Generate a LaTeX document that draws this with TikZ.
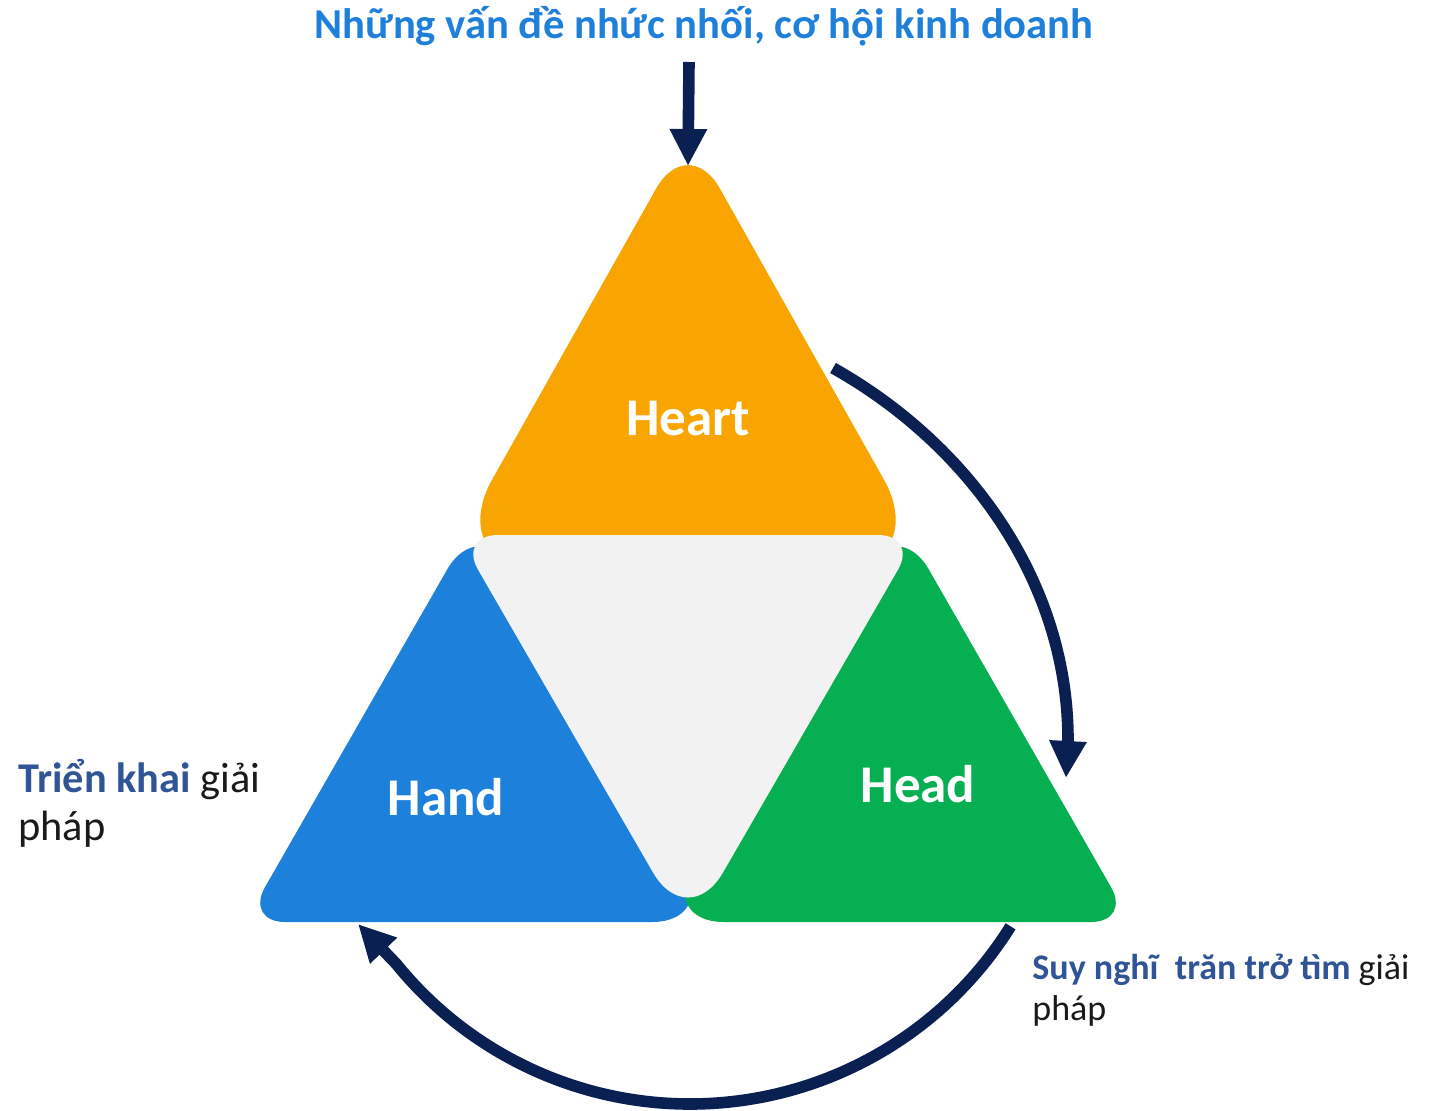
\documentclass[tikz,border=0pt]{standalone}
\usepackage{fontspec}
\setmainfont{Carlito}
\usetikzlibrary{arrows.meta,calc}
\definecolor{heartC}{HTML}{F8A502}
\definecolor{handC}{HTML}{1D80DA}
\definecolor{headC}{HTML}{06AF51}
\definecolor{coreC}{HTML}{F2F2F2}
\definecolor{navyC}{HTML}{0A1F52}
\definecolor{titleC}{HTML}{1E80DA}
\definecolor{lblC}{HTML}{2F5597}
\definecolor{txtC}{HTML}{1A1A1A}
% rounded triangle with a separate corner cut for each vertex
\newcommand\rndtri[6]{($(#1)!#2!(#5)$) .. controls ($(#1)!0.4477*#2!(#5)$) and ($(#1)!0.4477*#2!(#3)$) .. ($(#1)!#2!(#3)$)
 -- ($(#3)!#4!(#1)$) .. controls ($(#3)!0.4477*#4!(#1)$) and ($(#3)!0.4477*#4!(#5)$) .. ($(#3)!#4!(#5)$)
 -- ($(#5)!#6!(#3)$) .. controls ($(#5)!0.4477*#6!(#3)$) and ($(#5)!0.4477*#6!(#1)$) .. ($(#5)!#6!(#1)$) -- cycle}
\begin{document}
\begin{tikzpicture}[x=0.5pt,y=0.5pt,
  flow/.style={navyC, line width=5.8pt, -{Triangle[length=18.5pt,width=17.5pt]}},
  bigword/.style={text=white, font=\fontsize{26.5}{30}\selectfont\bfseries, inner sep=0pt, anchor=base},
  sidelbl/.style={inner sep=0pt, anchor=base west, text=txtC},
  leftfont/.style={font=\fontsize{21.2}{25}\selectfont},
  rightfont/.style={font=\fontsize{18}{22}\selectfont},
]
\useasboundingbox (0,0) rectangle (1434,-1110);
\fill[white] (0,0) rectangle (1434,-1110);

% vertices
\coordinate (hA) at (688,-132);  \coordinate (hB) at (440,-572);  \coordinate (hC) at (936,-572);
\coordinate (nA) at (479,-514);  \coordinate (nB) at (245,-922);  \coordinate (nC) at (716,-922);
\coordinate (dA) at (897,-514);  \coordinate (dB) at (660,-922);  \coordinate (dC) at (1131,-922);
\coordinate (cA) at (458,-535);  \coordinate (cB) at (918,-535);  \coordinate (cC) at (688,-933);

% triangles
\fill[heartC] \rndtri{hA}{32.5pt}{hB}{53.5pt}{hC}{53.5pt};
\fill[handC] \rndtri{nA}{32pt}{nB}{20pt}{nC}{32pt};
\fill[headC] \rndtri{dA}{32pt}{dB}{32pt}{dC}{20pt};
\fill[coreC] \rndtri{cA}{20pt}{cB}{20pt}{cC}{35pt};

% title
\node[font=\fontsize{21.3}{26}\selectfont\bfseries, text=titleC, anchor=base, inner sep=0pt] (title) at (704,-38) {Những vấn đề nhức nhối, cơ hội kinh doanh};

% big words
\node[bigword] (heart) at (688,-435) {Heart};
\node[bigword] (hand) at (446,-815) {Hand};
\node[bigword] (head) at (918,-802) {Head};

% side labels
\node[sidelbl, leftfont] (doL1) at (18,-792) {\textcolor{lblC}{\bfseries Triển khai} giải};
\node[sidelbl, leftfont] (doL2) at (18,-840) {pháp};
\node[sidelbl, rightfont] (thinkL1) at (1032,-979) {\textcolor{lblC}{\bfseries Suy nghĩ\ \ trăn trở tìm} giải};
\node[sidelbl, rightfont] (thinkL2) at (1032,-1020) {pháp};

% arrows
\coordinate (topS) at (689,-62);
\coordinate (topT) at (688,-166);
\draw[flow] (topS) -- (topT);

\coordinate (rS) at (833,-368);
\coordinate (rE) at (1068,-740);
\coordinate (rT) at (1066,-778);
\draw[flow] (rS) .. controls (970,-445) and (1068,-583) .. (rE) -- (rT);

\coordinate (bS) at (1010.6,-926.3);
\coordinate (bT) at (358,-924);
\draw[flow] (bS) arc[start angle=-32, end angle=-141, radius=189pt] -- (bT);
\end{tikzpicture}
\end{document}
